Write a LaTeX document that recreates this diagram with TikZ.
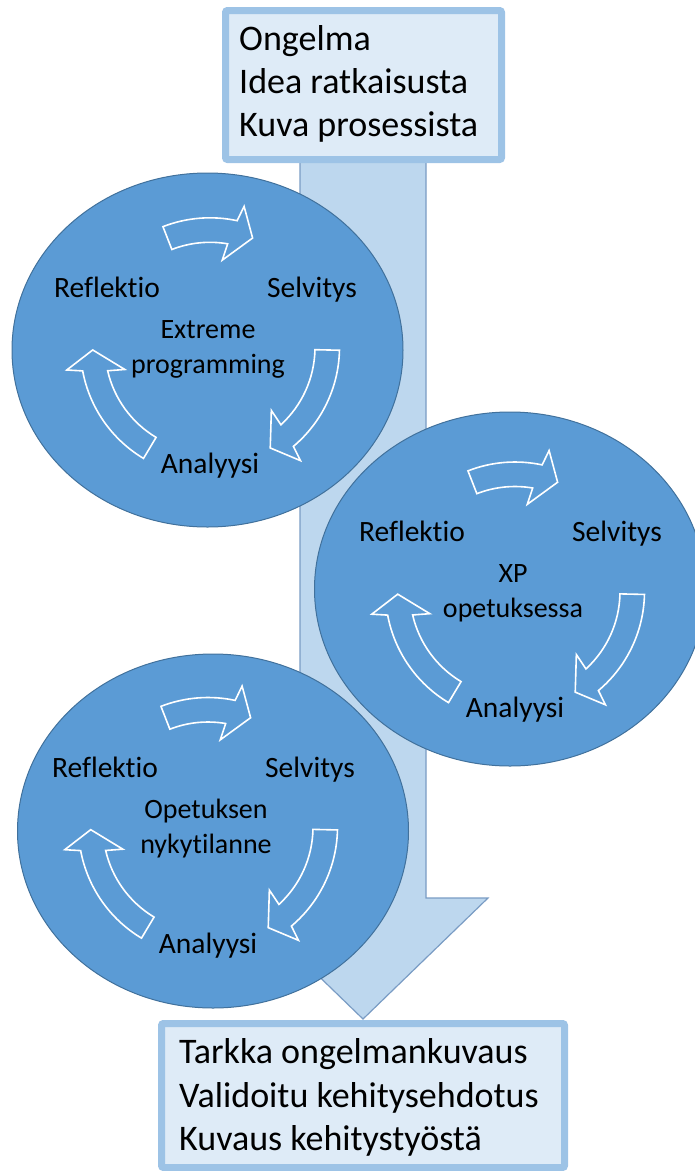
\documentclass[tikz,border=0pt]{standalone}
\usepackage{fontspec}
\setmainfont{Carlito}[Ligatures=NoCommon]
\usetikzlibrary{calc}
\definecolor{circfill}{HTML}{5B9BD5}
\definecolor{circline}{HTML}{41719C}
\definecolor{boxfill}{HTML}{DEEBF7}
\definecolor{boxline}{HTML}{9DC3E6}
\definecolor{bigfill}{HTML}{BDD7EE}
\definecolor{bigline}{HTML}{7A9CC4}
\newcommand{\cycarrow}[3]{%
  \draw[cyc] ($(#1)+(#2:129.5)$) arc[start angle=#2, end angle=#3+9.2, radius=129.5pt]
    -- ($(#1)+({#3+7.7}:145)$) -- ($(#1)+(#3:117.3)$) -- ($(#1)+({#3+13.3}:88)$)
    -- ($(#1)+({#3+11.6}:105)$)
    arc[start angle=#3+11.6, end angle=#2, radius=105pt] -- cycle;}
\newcommand{\cyclabels}[4]{%
  \node[lab] (refl#4) at ($(#1)+(-103,50)$) {Reflektio};
  \node[lab] (selv#4) at ($(#1)+(102,50)$) {Selvitys};
  \node[lab] (anal#4) at ($(#1)+(0,-126)$) {Analyysi};
  \node[inlab] (ta#4) at ($(#1)+(-2,9)$) {#2};
  \node[inlab] (tb#4) at ($(#1)+(-2,-26)$) {#3};}
\begin{document}
\begin{tikzpicture}[x=1pt,y=1pt,
  cyc/.style={draw=white, line width=1.6pt, line join=miter},
  blob/.style={fill=circfill, draw=circline, line width=1pt},
  lab/.style={inner sep=0pt, anchor=base, font=\fontsize{29.5}{35}\selectfont, text=black},
  inlab/.style={inner sep=0pt, anchor=base, font=\fontsize{28}{34}\selectfont, text=black},
  boxtxt/.style={inner sep=0pt, anchor=base west, font=\fontsize{36}{43}\selectfont, text=black},
  boxst/.style={fill=boxfill, draw=boxline, line width=7pt, rounded corners=2pt}]
\useasboundingbox (0,0) rectangle (695,-1171);
\clip (0,0) rectangle (695,-1171);
% big arrow
\draw[fill=bigfill, draw=bigline, line width=1.2pt] (300,-150) -- (300,-898) -- (238,-898) -- (363,-1019) -- (488,-898) -- (426,-898) -- (426,-150) -- cycle;
% circles
\draw[blob] (207.5,-350) ellipse [x radius=195.5pt, y radius=177pt];
\draw[blob] (510,-589) ellipse [x radius=195.5pt, y radius=177pt];
\draw[blob] (213,-831) ellipse [x radius=195.5pt, y radius=177pt];
\coordinate (c1) at (210,-347.3);
\coordinate (c2) at (515,-591.5);
\coordinate (c3) at (208,-827);
\foreach \c in {c1,c2,c3}{
  \cycarrow{\c}{111.3}{68.7}
  \cycarrow{\c}{-1.3}{-59.1}
  \cycarrow{\c}{239.1}{181.3}
}
\cyclabels{c1}{Extreme}{programming}{1}
\cyclabels{c2}{XP}{opetuksessa}{2}
\cyclabels{c3}{Opetuksen}{nykytilanne}{3}
% top box
\draw[boxst] (225.5,-10.5) rectangle (501.5,-159.5);
\node[boxtxt] (t1) at (239,-50) {Ongelma};
\node[boxtxt] (t2) at (239,-93) {Idea ratkaisusta};
\node[boxtxt] (t3) at (239,-136) {Kuva prosessista};
% bottom box
\draw[boxst] (161.5,-1023.5) rectangle (564.5,-1167.5);
\node[boxtxt] (b1) at (179,-1063) {Tarkka ongelmankuvaus};
\node[boxtxt] (b2) at (179,-1107) {Validoitu kehitysehdotus};
\node[boxtxt] (b3) at (179,-1150) {Kuvaus kehitystyöstä};
\end{tikzpicture}
\end{document}
